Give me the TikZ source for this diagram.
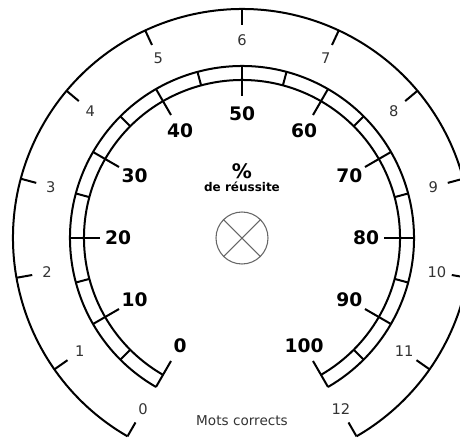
\documentclass[tikz,border=0pt]{standalone}
\usepackage{fontspec}
\setmainfont{DejaVu Sans}
\begin{document}
\begin{tikzpicture}[x=0.75pt,y=0.75pt,
  ring/.style={line width=1.5pt, black},
  inlab/.style={font=\bfseries\fontsize{14}{14}\selectfont, text=black, inner sep=0pt},
  outlab/.style={font=\fontsize{11}{11}\selectfont, text=black!80, inner sep=0pt},
  hub/.style={draw=black!60, line width=0.8pt}]
\useasboundingbox (-242,-199) rectangle (218,238);
\clip (-242,-199) rectangle (218,238);
% outer scale: Mots corrects
\draw[ring] (240:229) arc[start angle=240,end angle=-60,radius=229];
\foreach \i in {0,...,12} {
  \pgfmathsetmacro\a{240-25*\i}
  \draw[ring] (\a:229) -- (\a:213);
  \node[outlab] (o\i) at (\a:198) {\i};
}
% inner scale: percent
\draw[ring] (240:172) arc[start angle=240,end angle=-60,radius=172];
\draw[ring] (240:158) arc[start angle=240,end angle=-60,radius=158];
\foreach \i in {0,...,10} {
  \pgfmathsetmacro\a{240-30*\i}
  \pgfmathtruncatemacro\v{10*\i}
  \draw[ring] (\a:172) -- (\a:142);
  \node[inlab] (p\i) at (\a:124) {\v};
}
\foreach \i in {0,...,9} {
  \pgfmathsetmacro\a{225-30*\i}
  \draw[ring] (\a:172) -- (\a:158);
}
% hub
\node[hub, circle, minimum size=52pt*0.75, inner sep=0pt] (hub) at (0,0) {};
\draw[black!60, line width=0.8pt] (hub.45) -- (hub.225) (hub.135) -- (hub.315);
\node[font=\bfseries\fontsize{15}{15}\selectfont, inner sep=0pt] (pct) at (0,67) {\%};
\node[font=\bfseries\fontsize{9}{9}\selectfont, inner sep=0pt] (reu) at (0,51) {de réussite};
\node[font=\fontsize{10.2}{10.2}\selectfont, text=black!80, inner sep=0pt] (mots) at (0,-183) {Mots corrects};
\end{tikzpicture}
\end{document}
